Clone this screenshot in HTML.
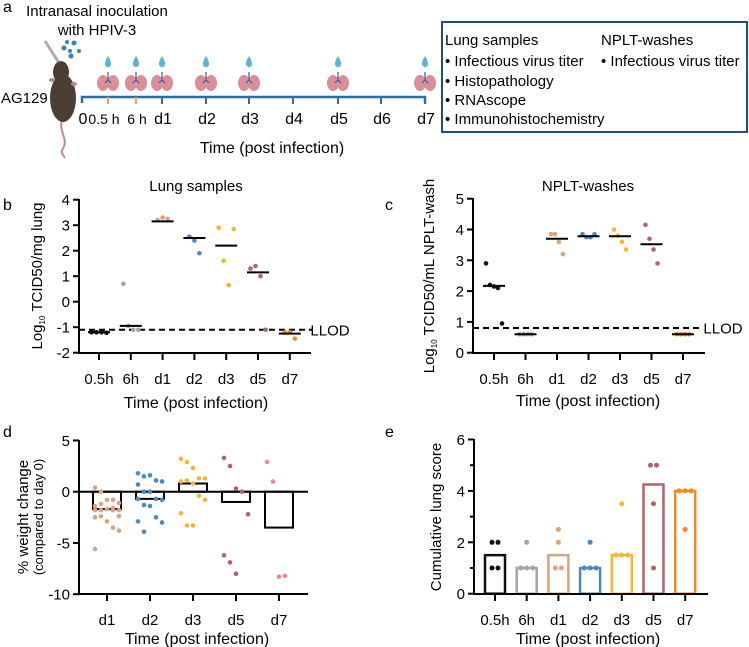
<!DOCTYPE html>
<html><head><meta charset="utf-8">
<style>
html,body{margin:0;padding:0;background:#fff;}
svg{display:block;font-family:"Liberation Sans",Arial,sans-serif;}
</style></head>
<body>
<svg id="fig" width="749" height="647" viewBox="0 0 749 647" xmlns="http://www.w3.org/2000/svg">
<g id="panelA">
  <text x="3" y="12" font-size="16">a</text>
  <text x="97" y="16" font-size="15" text-anchor="middle">Intranasal inoculation</text>
  <text x="97" y="35" font-size="15" text-anchor="middle">with HPIV-3</text>
  <text x="1" y="103" font-size="15">AG129</text>
  <g>
    <line x1="45" y1="41" x2="59" y2="63" stroke="#aab" stroke-width="3"/>
    <path d="M62 120 C58 132 70 140 62 150 C60 154 66 156 64 158" fill="none" stroke="#c08a85" stroke-width="2"/>
    <ellipse cx="63" cy="98" rx="13" ry="24" fill="#4b3f35"/>
    <ellipse cx="61" cy="72" rx="8" ry="11" fill="#4b3f35"/>
    <ellipse cx="52" cy="80" rx="3" ry="2" fill="#c08a85"/>
    <ellipse cx="74" cy="84" rx="3" ry="2" fill="#c08a85"/>
  </g>
  <g fill="#3a7fb8">
    <circle cx="64" cy="48" r="2.5"/><circle cx="74" cy="43" r="2.5"/><circle cx="70" cy="51" r="2"/><circle cx="79" cy="51" r="2"/><circle cx="71" cy="56" r="2.5"/><circle cx="67" cy="42" r="2"/>
  </g>
  <g id="timeline"></g>
  <text x="272" y="153" font-size="16" text-anchor="middle">Time (post infection)</text>
  <rect x="442" y="22" width="305" height="110" fill="none" stroke="#1f4e7d" stroke-width="2"/>
  <g font-size="15">
    <text x="445" y="45">Lung samples</text>
    <text x="601" y="45">NPLT-washes</text>
    <text x="445" y="66">• Infectious virus titer</text>
    <text x="601" y="66">• Infectious virus titer</text>
    <text x="445" y="86">• Histopathology</text>
    <text x="445" y="105">• RNAscope</text>
    <text x="445" y="124">• Immunohistochemistry</text>
  </g>
</g>
<g id="panelB"></g>
<g id="panelC"></g>
<g id="panelD"></g>
<g id="panelE"></g>
</svg>
<script>
// ---- data ----
const timelineLabels = ["0","0.5 h","6 h","d1","d2","d3","d4","d5","d6","d7"];
const timelineSampled = [false,true,true,true,true,true,false,true,false,true];
const groups7 = ["0.5h","6h","d1","d2","d3","d5","d7"];
const groups5 = ["d1","d2","d3","d5","d7"];
const colors7 = ["#111111","#a6a6a6","#d9a47f","#4a8ac0","#f5b731","#b0636b","#f28a1e"];
const colors5 = ["#d9a47f","#4a8ac0","#f5b731","#b0636b","#f08a8a"];
const lungTicks = [-2,-1,0,1,2,3,4];
const lungPoints = [[-1.2,-1.2,-1.2,-1.22],[0.7,-0.95,-1.1,-1.1],[3.2,3.3,3.25],[2.55,2.4,1.9],[2.9,1.6,0.65,2.85],[1.3,1.4,1.0,-1.1],[-1.2,-1.2,-1.45]];
const lungMedians = [-1.2,-0.95,3.15,2.5,2.2,1.15,-1.25];
const lungLLOD = -1.1;
const npltTicks = [0,1,2,3,4,5];
const npltPoints = [[2.9,2.2,2.15,2.1,0.95],[0.6,0.6,0.6,0.6],[3.85,3.85,3.6,3.2],[3.85,3.75,3.75,3.85],[4.0,3.8,3.6,3.35],[4.15,3.7,3.35,2.9],[0.6,0.6,0.6,0.6]];
const npltMedians = [2.17,0.6,3.7,3.78,3.78,3.52,0.6];
const npltLLOD = 0.8;
const weightTicks = [-10,-5,0,5];
const weightMeans = [-1.7,-0.7,0.8,-1.0,-3.5];
const weightPoints = [
 [0.4,0,-0.8,-0.8,-1.1,-1.4,-1.2,-1.7,-1.8,-1.8,-1.8,-1.8,-1.7,-1.6,-2.4,-2.5,-2.4,-2.9,-3.5,-3.8,-5.6],
 [1.8,1.5,1.6,1.1,1.0,0.7,0,0,-0.7,-0.8,-0.7,-1.3,-1.4,-2.5,-3.0,-2.9,-3.9],
 [3.2,2.9,2.3,1.3,1.3,1.0,1.1,0.8,-0.4,-0.8,-2.1,-3.3,-3.3],
 [3.3,2.5,0.3,0,-2.2,-6.2,-6.9,-8.0],
 [2.9,1.0,-8.3,-8.2]];
const scoreTicks = [0,2,4,6];
const scoreMeans = [1.5,1.0,1.5,1.0,1.5,4.25,4.0];
const scorePoints = [[2,2,1,1],[2,1,1,1],[2.5,2,1,1],[2,1,1,1],[3.5,1.5,1.5,1.5],[5,5,3.5,1],[4,4,4,2.5]];

const NS="http://www.w3.org/2000/svg";
function mk(parent,tag,attrs,text){const e=document.createElementNS(NS,tag);for(const k in attrs)e.setAttribute(k,attrs[k]);if(text!==undefined)e.textContent=text;parent.appendChild(e);return e;}
const FS=15;

// ---- timeline ----
const tl=document.getElementById('timeline');
const tlX=[82,108,136,162,206,249,293,338,381,425];
const tlLabelX=[83,104,137,163,207,250,294,339,382,426];
let line=mk(tl,'path',{d:`M82 103 V97 H425 V103`,fill:'none',stroke:'#2e6da4','stroke-width':2.5});


timelineLabels.forEach((lab,i)=>{
  const x=tlX[i];
  if(i>0){const t=mk(tl,'line',{x1:x,y1:97,x2:x,y2:104,stroke:(i==1||i==2)?'#f0a060':'#2e6da4','stroke-width':2});
  
  }
  const tx=mk(tl,'text',{x:tlLabelX[i],y:124,'font-size':(i==1||i==2)?14:16,'text-anchor':'middle'},lab);
  
  
  if(timelineSampled[i]){
    const g=mk(tl,'g',{});
    
    
    mk(g,'path',{d:`M${x} 56 C${x-4} 62 ${x-4} 67 ${x} 67 C${x+4} 67 ${x+4} 62 ${x} 56Z`,fill:'#5bb3e0'});
    mk(g,'ellipse',{cx:x-5,cy:83,rx:6,ry:8,fill:'#d98f95'});
    mk(g,'ellipse',{cx:x+5,cy:83,rx:6,ry:8,fill:'#d98f95'});
    mk(g,'path',{d:`M${x} 72 V80 M${x} 80 L${x-3} 83 M${x} 80 L${x+3} 83`,stroke:'#3a5aa0','stroke-width':1.2,fill:'none'});
  }
});

// ---- generic axis helper ----
function yAxis(g,x0,yTop,yBot,ticks,sc,name){
  const a=mk(g,'line',{x1:x0,y1:yTop,x2:x0,y2:yBot,stroke:'#000','stroke-width':2});
  
  
  ticks.forEach(v=>{
    const y=sc(v);
    mk(g,'line',{x1:x0-6,y1:y,x2:x0,y2:y,stroke:'#000','stroke-width':2});
    const t=mk(g,'text',{x:x0-9,y:y+5.5,'font-size':FS,'text-anchor':'end'},v);
    
    
  });
}
function xAxis(g,x0,x1,y,cats,xs,name,tickLen){
  const a=mk(g,'line',{x1:x0,y1:y,x2:x1,y2:y,stroke:'#000','stroke-width':2});
  
  
  cats.forEach((c,i)=>{
    mk(g,'line',{x1:xs(i),y1:y,x2:xs(i),y2:y+tickLen,stroke:'#000','stroke-width':2});
    const t=mk(g,'text',{x:xs(i),y:y+31,'font-size':FS,'text-anchor':'middle'},c);
    
    
  });
}
function label(g,x,y,txt,name,extra){const t=mk(g,'text',Object.assign({x:x,y:y,'font-size':FS,'text-anchor':'middle'},extra||{}),txt);return t;}
function jitter(n,i,w){return n<=1?0:(i-(n-1)/2)*w;}

// ---- panel b ----
(function(){
  const g=document.getElementById('panelB');
  const sy=v=>301.7-v*25.5, xs=i=>99+i*31.8;
  label(g,3,210,'b','panel-label-b',{'font-size':16,'text-anchor':'start'});
  label(g,196,191,'Lung samples','panel-b-title');
  yAxis(g,79,199,354,lungTicks,sy,'lung');
  xAxis(g,78,311,353,groups7,xs,'lung',7);
  const yl=mk(g,'text',{transform:'translate(42,276) rotate(-90)','font-size':FS,'text-anchor':'middle'});
  
  yl.innerHTML='Log<tspan font-size="8" dy="3">10</tspan><tspan dy="-3"> TCID50/mg lung</tspan>';
  const ll=mk(g,'line',{x1:79,y1:sy(lungLLOD),x2:312,y2:sy(lungLLOD),stroke:'#000','stroke-width':2,'stroke-dasharray':'6,4'});
  
  label(g,330,sy(lungLLOD)+5.5,'LLOD','llod-label');
  lungPoints.forEach((pts,i)=>{pts.forEach((v,j)=>{
    const c=mk(g,'circle',{cx:xs(i)+jitter(pts.length,j,5),cy:sy(v),r:2.3,fill:colors7[i]});
    });
    const m=mk(g,'line',{x1:xs(i)-11,x2:xs(i)+11,y1:sy(lungMedians[i]),y2:sy(lungMedians[i]),stroke:'#000','stroke-width':2});
    
  });
  label(g,196,408,'Time (post infection)','panel-b-x-title',{'font-size':16});
})();

// ---- panel c ----
(function(){
  const g=document.getElementById('panelC');
  const sy=v=>352.7-v*30.8, xs=i=>494+i*31.5;
  label(g,385,210,'c','panel-label-c',{'font-size':16,'text-anchor':'start'});
  label(g,588,191,'NPLT-washes','panel-c-title');
  yAxis(g,473,198,354,npltTicks,sy,'nplt');
  xAxis(g,472,705,353,groups7,xs,'nplt',7);
  const yl=mk(g,'text',{transform:'translate(434,276) rotate(-90)','font-size':FS,'text-anchor':'middle'});
  
  yl.innerHTML='Log<tspan font-size="8" dy="3">10</tspan><tspan dy="-3"> TCID50/mL NPLT-wash</tspan>';
  const ll=mk(g,'line',{x1:473,y1:sy(npltLLOD),x2:703,y2:sy(npltLLOD),stroke:'#000','stroke-width':2,'stroke-dasharray':'6,4'});
  
  label(g,723,sy(npltLLOD)+5.5,'LLOD','llod-label');
  npltPoints.forEach((pts,i)=>{pts.forEach((v,j)=>{
    const c=mk(g,'circle',{cx:xs(i)+jitter(pts.length,j,4),cy:sy(v),r:2.3,fill:colors7[i]});
    });
    const m=mk(g,'line',{x1:xs(i)-11,x2:xs(i)+11,y1:sy(npltMedians[i]),y2:sy(npltMedians[i]),stroke:'#000','stroke-width':2});
    
  });
  label(g,588,406,'Time (post infection)','panel-c-x-title',{'font-size':16});
})();

// ---- panel d ----
(function(){
  const g=document.getElementById('panelD');
  const sy=v=>491.7-v*10.25, xs=i=>107+i*43;
  label(g,3,437,'d','panel-label-d',{'font-size':16,'text-anchor':'start'});
  yAxis(g,79,440,595,weightTicks,sy,'weight');
  xAxis(g,78,308,594,groups5,xs,'weight',7);
  label(g,0,0,'% weight change','panel-d-y-title',{transform:'translate(28,517) rotate(-90)'});
  label(g,0,0,'(compared to day 0)','panel-d-y-subtitle',{transform:'translate(43,517) rotate(-90)','font-size':13});
  weightMeans.forEach((v,i)=>{
    const y0=sy(0),y1=sy(v);
    const b=mk(g,'rect',{x:xs(i)-14,y:Math.min(y0,y1),width:28,height:Math.abs(y1-y0),fill:'none',stroke:'#000','stroke-width':2});
    
  });
  const z=mk(g,'line',{x1:79,x2:308,y1:sy(0),y2:sy(0),stroke:'#000','stroke-width':2});
  
  weightPoints.forEach((pts,i)=>{
    pts.forEach((v,j)=>{
      const off=((j%5)-2)*6;
      const c=mk(g,'circle',{cx:xs(i)+off,cy:sy(v),r:2.3,fill:colors5[i]});
      
    });
  });
  label(g,197,644,'Time (post infection)','panel-d-x-title',{'font-size':16});
})();

// ---- panel e ----
(function(){
  const g=document.getElementById('panelE');
  const sy=v=>593.7-v*25.7, xs=i=>495+i*31.7;
  label(g,385,437,'e','panel-label-e',{'font-size':16,'text-anchor':'start'});
  label(g,0,0,'Cumulative lung score','panel-e-y-title',{transform:'translate(441,517) rotate(-90)'});
  scoreMeans.forEach((v,i)=>{
    const b=mk(g,'rect',{x:xs(i)-10,y:sy(v),width:20,height:sy(0)-sy(v),fill:'none',stroke:colors7[i],'stroke-width':2.5});
    
  });
  yAxis(g,474,439,595,scoreTicks,sy,'score');
  [1,3,5].forEach(v=>mk(g,'line',{x1:470,x2:474,y1:sy(v),y2:sy(v),stroke:'#000','stroke-width':2}));
  xAxis(g,473,708,594,groups7,xs,'score',7);
  scorePoints.forEach((pts,i)=>{
    const seen={};
    pts.forEach(v=>{seen[v]=(seen[v]||0)+1;});
    const idx={};
    pts.forEach(v=>{
      const n=seen[v];idx[v]=(idx[v]||0);
      const c=mk(g,'circle',{cx:xs(i)+jitter(n,idx[v],6),cy:sy(v),r:2.5,fill:colors7[i]});
      idx[v]++;
      
    });
  });
  label(g,588,644,'Time (post infection)','panel-e-x-title',{'font-size':16});
})();
</script>
</body></html>
